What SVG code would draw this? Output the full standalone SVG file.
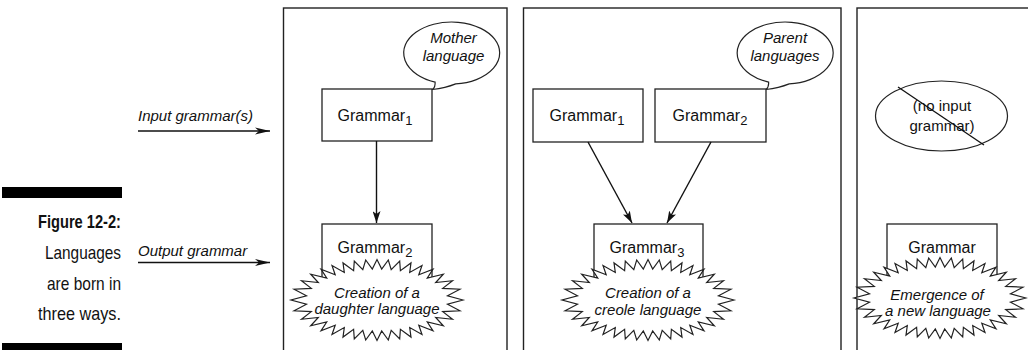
<svg xmlns="http://www.w3.org/2000/svg" width="1028" height="350" viewBox="0 0 1028 350">
  <style>
    .panel{fill:none;stroke:#222;stroke-width:1.4}
    .box{fill:#fff;stroke:#222;stroke-width:1.3}
    .burst{fill:#fff;stroke:#222;stroke-width:1.2;stroke-linejoin:miter}
    .bubble{fill:#fff;stroke:#222;stroke-width:1.2}
    .conn{fill:none;stroke:#111;stroke-width:1.4}
    .t{font-family:"Liberation Sans",Arial,sans-serif;fill:#111}
    .g{font-size:16px;text-anchor:middle}
    .it{font-style:italic;font-size:15px}
    .mid{text-anchor:middle}
    .sub{font-size:13px}
    .cap{font-size:19px;text-anchor:end}
  </style>
  <defs>
    <marker id="ah" markerWidth="12" markerHeight="8" refX="12" refY="4" orient="auto" markerUnits="userSpaceOnUse">
      <path d="M0,0 L12,4 L0,8 L3,4 Z" fill="#111"/>
    </marker>
    <marker id="ahL" markerWidth="15" markerHeight="8" refX="15" refY="4" orient="auto" markerUnits="userSpaceOnUse">
      <path d="M0,0.5 L15,4 L0,7.5 L4,4 Z" fill="#111"/>
    </marker>
    <!-- jagged "explosion" outline, centred on the origin -->
    <polygon id="burst" class="burst" points="86,0 70.5,-4.2 82.9,-10.8 65.7,-11.6 75.5,-19.3 58.7,-17.5 66.3,-25.8 50.3,-22 56,-30.8 41.8,-25.2 45,-34.5 32.7,-27.6 34,-37.1 23.4,-29.3 22.7,-39 14.2,-30.4 11.3,-40 4.7,-31 0,-40.5 -4.7,-31 -11.3,-40 -14.2,-30.4 -22.7,-39 -23.4,-29.3 -34,-37.1 -32.7,-27.6 -45,-34.5 -41.8,-25.2 -56,-30.8 -50.3,-22 -66.3,-25.8 -58.7,-17.5 -75.5,-19.3 -65.7,-11.6 -82.9,-10.8 -70.5,-4.2 -86,0 -70.5,4.2 -82.9,10.8 -65.7,11.6 -75.5,19.3 -58.7,17.5 -66.3,25.8 -50.3,22 -56,30.8 -41.8,25.2 -45,34.5 -32.7,27.6 -34,37.1 -23.4,29.3 -22.7,39 -14.2,30.4 -11.3,40 -4.7,31 0,40.5 4.7,31 11.3,40 14.2,30.4 22.7,39 23.4,29.3 34,37.1 32.7,27.6 45,34.5 41.8,25.2 56,30.8 50.3,22 66.3,25.8 58.7,17.5 75.5,19.3 65.7,11.6 82.9,10.8 70.5,4.2"/>
    <!-- speech bubble with its tail pointing down-left -->
    <path id="bubble" class="bubble" d="M4.2,30.9 A48,31 0 1 0 -16.4,29.1 Q-16,34 -19,36.5 Q-6,35 4.2,30.9 Z"/>
  </defs>

  <rect width="1028" height="350" fill="#fff"/>

  <!-- caption -->
  <g id="caption">
    <rect x="2" y="187" width="120" height="11" fill="#000"/>
    <rect x="2" y="343" width="120" height="7" fill="#000"/>
    <text class="t cap" x="121" y="228" font-weight="bold" textLength="83" lengthAdjust="spacingAndGlyphs">Figure 12-2:</text>
    <text class="t cap" x="121" y="259" textLength="76" lengthAdjust="spacingAndGlyphs">Languages</text>
    <text class="t cap" x="121" y="290" textLength="74" lengthAdjust="spacingAndGlyphs">are born in</text>
    <text class="t cap" x="121" y="320" textLength="83" lengthAdjust="spacingAndGlyphs">three ways.</text>
  </g>

  <!-- row labels -->
  <g id="labels">
    <text class="t it" x="138" y="121">Input grammar(s)</text>
    <text class="t it" x="138" y="256">Output grammar</text>
  </g>

  <!-- panels -->
  <g id="panels">
    <rect class="panel" x="283.5" y="8" width="223.5" height="360"/>
    <rect class="panel" x="523.5" y="8" width="317.5" height="360"/>
    <rect class="panel" x="857" y="8" width="200" height="360"/>
  </g>

  <!-- panel 1: daughter language -->
  <g id="mother-bubble">
    <use href="#bubble" transform="translate(451.5,53)"/>
    <text class="t it mid" x="453.5" y="43">Mother</text>
    <text class="t it mid" x="453.5" y="61">language</text>
  </g>
  <g id="p1-grammar1">
    <rect class="box" x="322" y="89" width="110" height="52"/>
    <text class="t g" x="375" y="121">Grammar<tspan class="sub" dy="4">1</tspan></text>
  </g>
  <g id="p1-grammar2">
    <rect class="box" x="322" y="224" width="110" height="60"/>
    <text class="t g" x="375" y="253">Grammar<tspan class="sub" dy="4">2</tspan></text>
    <use href="#burst" transform="translate(377,300)"/>
    <text class="t it mid" x="377" y="298">Creation of a</text>
    <text class="t it mid" x="377" y="314">daughter language</text>
  </g>

  <!-- panel 2: creole -->
  <g id="parent-bubble">
    <use href="#bubble" transform="translate(785,53)"/>
    <text class="t it mid" x="785" y="43">Parent</text>
    <text class="t it mid" x="785" y="61">languages</text>
  </g>
  <g id="p2-grammar1">
    <rect class="box" x="533" y="89" width="110" height="53"/>
    <text class="t g" x="587" y="121">Grammar<tspan class="sub" dy="4">1</tspan></text>
  </g>
  <g id="p2-grammar2">
    <rect class="box" x="655" y="89" width="111" height="53"/>
    <text class="t g" x="710" y="121">Grammar<tspan class="sub" dy="4">2</tspan></text>
  </g>
  <g id="p2-grammar3">
    <rect class="box" x="594" y="224" width="109" height="60"/>
    <text class="t g" x="647" y="253">Grammar<tspan class="sub" dy="4">3</tspan></text>
    <use href="#burst" transform="translate(648,300)"/>
    <text class="t it mid" x="648" y="298">Creation of a</text>
    <text class="t it mid" x="648" y="315">creole language</text>
  </g>

  <!-- panel 3: emergence -->
  <g id="no-input">
    <ellipse cx="941.5" cy="116" rx="66" ry="35" fill="#fff" stroke="#222" stroke-width="1.2"/>
    <text class="t mid" x="942" y="111" font-size="15">(no input</text>
    <text class="t mid" x="942" y="131" font-size="15">grammar)</text>
    <line x1="898" y1="87" x2="984" y2="145" stroke="#111" stroke-width="1.3"/>
  </g>
  <g id="p3-grammar">
    <rect class="box" x="887" y="224" width="110" height="60"/>
    <text class="t g" x="942" y="253">Grammar</text>
    <use href="#burst" transform="translate(940,298)"/>
    <text class="t it mid" x="937" y="300">Emergence of</text>
    <text class="t it mid" x="938" y="316">a new language</text>
  </g>

  <!-- connectors -->
  <g id="connectors" class="conn">
    <line x1="138" y1="131" x2="270" y2="131" marker-end="url(#ahL)"/>
    <line x1="138" y1="262.5" x2="270" y2="262.5" marker-end="url(#ahL)"/>
    <line x1="376.5" y1="141" x2="376.5" y2="223" marker-end="url(#ah)"/>
    <line x1="588" y1="142" x2="632" y2="223" marker-end="url(#ah)"/>
    <line x1="711" y1="142" x2="667" y2="223" marker-end="url(#ah)"/>
  </g>
</svg>
